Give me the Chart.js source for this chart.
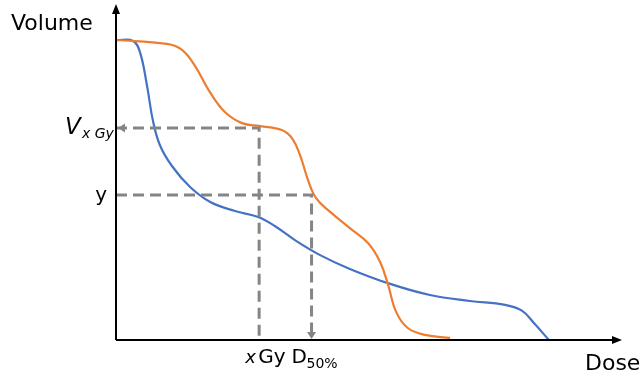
<!DOCTYPE html>
<html>
<head>
<meta charset="utf-8">
<script src="https://cdn.jsdelivr.net/npm/chart.js@4"></script>
<style>
  body { margin: 0; background: #fff; }
  #wrap { width: 643px; height: 373px; position: relative; }
</style>
</head>
<body>
<div id="wrap"><canvas id="dvh"></canvas></div>
<script>
// dose (0..100) vs volume (0..100)
const blueDose = [0, 3.4, 4.8, 6.2, 7.3, 8.7, 11.1, 14.7, 18.7, 23.6, 28.2, 31.5, 35.5, 40.5, 46.4, 54.4, 62.3, 70.2, 77.2, 80.6, 83.1, 85.9];
const blueVol = [100, 99.7, 95.7, 84.3, 73.3, 65, 58, 51, 46, 43, 41, 38, 33.3, 28.3, 23.7, 18.7, 15, 13, 11.7, 9.7, 5.3, 0];
const orangeDose = [0, 10.1, 13.1, 15.7, 18.6, 21.6, 25, 28.6, 32.9, 34.9, 36.5, 38.1, 39.7, 42.5, 46.4, 50, 52.4, 54, 55.6, 57.9, 61.3, 66.3];
const orangeVol = [100, 98.7, 96.7, 91.3, 82.7, 76, 72.3, 71.3, 70, 67.3, 61.7, 53.3, 47.3, 42.7, 37.3, 32.3, 26, 18.3, 9.3, 4, 1.7, 0.7];

// reference markers
const xGy = 28.4;    // dose where V is read
const vxGy = 70.7;   // volume at x Gy
const yLevel = 48.3; // volume level y
const d50 = 38.8;    // dose at volume y

const pts = (xs, ys) => xs.map((x, i) => ({ x, y: ys[i] }));
const grey = '#858585';
const font = '"DejaVu Sans", sans-serif';

const overlay = {
  id: 'overlay',
  afterDraw(chart) {
    const { ctx, chartArea: a, scales: { x, y } } = chart;
    ctx.save();
    // axes with arrows
    ctx.strokeStyle = '#000';
    ctx.fillStyle = '#000';
    ctx.lineWidth = 2;
    ctx.beginPath();
    ctx.moveTo(a.left, a.bottom);
    ctx.lineTo(a.left, a.top + 6);
    ctx.moveTo(a.left, a.bottom);
    ctx.lineTo(a.right - 6, a.bottom);
    ctx.stroke();
    ctx.beginPath();
    ctx.moveTo(a.left, a.top - 1);
    ctx.lineTo(a.left - 4, a.top + 9);
    ctx.lineTo(a.left + 4, a.top + 9);
    ctx.closePath();
    ctx.fill();
    ctx.beginPath();
    ctx.moveTo(a.right + 2, a.bottom);
    ctx.lineTo(a.right - 8, a.bottom - 4);
    ctx.lineTo(a.right - 8, a.bottom + 4);
    ctx.closePath();
    ctx.fill();

    // arrowheads on dashed guides
    ctx.fillStyle = grey;
    const vy = y.getPixelForValue(vxGy);
    ctx.beginPath();
    ctx.moveTo(a.left + 2, vy);
    ctx.lineTo(a.left + 9, vy - 4.5);
    ctx.lineTo(a.left + 9, vy + 4.5);
    ctx.closePath();
    ctx.fill();
    const dx = x.getPixelForValue(d50);
    ctx.beginPath();
    ctx.moveTo(dx, a.bottom - 1);
    ctx.lineTo(dx - 4.5, a.bottom - 8);
    ctx.lineTo(dx + 4.5, a.bottom - 8);
    ctx.closePath();
    ctx.fill();

    // text
    ctx.fillStyle = '#000';
    ctx.textBaseline = 'alphabetic';
    ctx.textAlign = 'left';
    ctx.font = `22px ${font}`;
    ctx.fillText('Volume', 11, 30);
    ctx.fillText('Dose', 585, 370);

    ctx.font = `italic 23px ${font}`;
    ctx.fillText('V', 65, vy + 6);
    ctx.font = `italic 14px ${font}`;
    ctx.fillText('x Gy', 82, vy + 10);

    ctx.font = `20px ${font}`;
    ctx.textAlign = 'right';
    ctx.fillText('y', 107, y.getPixelForValue(yLevel) + 6);

    const gx = x.getPixelForValue(xGy);
    ctx.textAlign = 'left';
    ctx.font = `italic 18px ${font}`;
    ctx.fillText('x', gx - 14, 363);
    ctx.font = `20px ${font}`;
    ctx.fillText('Gy', gx - 1, 363);

    ctx.fillText('D', dx - 20, 363);
    ctx.font = `14px ${font}`;
    ctx.fillText('50%', dx - 5, 368);
    ctx.restore();
  },
};

const guide = (gx, gy) => ({
  data: [{ x: 0, y: gy }, { x: gx, y: gy }, { x: gx, y: 0 }],
  borderColor: grey,
  borderWidth: 3,
  borderDash: [11, 6],
  tension: 0,
});

new Chart(document.getElementById('dvh'), {
  type: 'line',
  data: {
    datasets: [
      guide(xGy, vxGy),
      guide(d50, yLevel),
      { data: pts(orangeDose, orangeVol), borderColor: '#ed7d31', borderWidth: 2.2, tension: 0.4 },
      { data: pts(blueDose, blueVol), borderColor: '#4472c4', borderWidth: 2.2, tension: 0.4 },
    ],
  },
  options: {
    responsive: true,
    maintainAspectRatio: false,
    animation: false,
    layout: { padding: { left: 116, right: 23, top: 5, bottom: 33 } },
    elements: { point: { radius: 0 } },
    plugins: { legend: { display: false }, tooltip: { enabled: false } },
    scales: {
      x: { type: 'linear', min: 0, max: 100, display: false },
      y: { type: 'linear', min: 0, max: 111.67, display: false },
    },
  },
  plugins: [overlay],
});
</script>
</body>
</html>
